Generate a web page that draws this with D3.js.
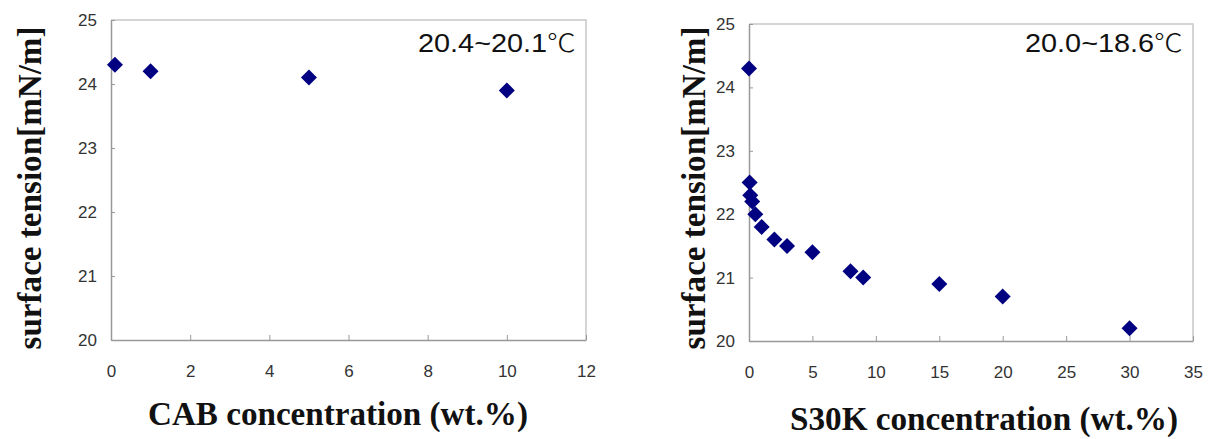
<!DOCTYPE html>
<html>
<head>
<meta charset="utf-8">
<script src="https://cdn.jsdelivr.net/npm/d3@7"></script>
<style>
  body { margin: 0; background: #fff; }
  .tick text { font-family: "Liberation Sans", Arial, sans-serif; font-size: 17px; fill: #333; }
</style>
</head>
<body>
<div id="chart"></div>
<script>
// CAB panel
var cabConc = [0.1, 1, 5, 10];
var cabTension = [24.3, 24.2, 24.1, 23.9];
var cabXTicks = [0, 2, 4, 6, 8, 10, 12];

// S30K panel
var s30kConc = [0, 0.05, 0.1, 0.25, 0.5, 1, 2, 3, 5, 8, 9, 15, 20, 30];
var s30kTension = [24.3, 22.5, 22.3, 22.2, 22.0, 21.8, 21.6, 21.5, 21.4, 21.1, 21.0, 20.9, 20.7, 20.2];
var s30kXTicks = [0, 5, 10, 15, 20, 25, 30, 35];

var yTicks = [20, 21, 22, 23, 24, 25];

var svg = d3.select("#chart").append("svg")
    .attr("width", 1214)
    .attr("height", 439);

svg.append("rect").attr("width", 1214).attr("height", 439).attr("fill", "#fff");

var panels = [
  {x: cabConc, y: cabTension, xTicks: cabXTicks, xMax: 12,
   left: 111, right: 586, top: 20, bottom: 340,
   note: "20.4~20.1", xLabel: "CAB concentration (wt.%)",
   xLabelX: 148, xLabelY: 425, xLabelW: 380, yLabelX: 41},
  {x: s30kConc, y: s30kTension, xTicks: s30kXTicks, xMax: 35,
   left: 749, right: 1193, top: 24, bottom: 341,
   note: "20.0~18.6", xLabel: "S30K concentration (wt.%)",
   xLabelX: 790, xLabelY: 430, xLabelW: 388, yLabelX: 705}
];

panels.forEach(function(p) {
  var x = d3.scaleLinear().domain([0, p.xMax]).range([p.left, p.right]);
  var y = d3.scaleLinear().domain([20, 25]).range([p.bottom, p.top]);

  // light frame on top and right
  svg.append("path")
      .attr("d", "M" + p.left + "," + p.top + "H" + p.right + "V" + p.bottom)
      .attr("fill", "none")
      .attr("stroke", "#c8c8c8")
      .attr("stroke-width", 1.5);

  var xAxis = svg.append("g")
      .attr("transform", "translate(0," + p.bottom + ")")
      .call(d3.axisBottom(x).tickValues(p.xTicks).tickFormat(d3.format("d"))
        .tickSize(-5).tickPadding(25).tickSizeOuter(0));
  var yAxis = svg.append("g")
      .attr("transform", "translate(" + p.left + ",0)")
      .call(d3.axisLeft(y).tickValues(yTicks).tickFormat(d3.format("d"))
        .tickSize(-4).tickPadding(14).tickSizeOuter(0));

  [xAxis, yAxis].forEach(function(g) {
    g.select(".domain").attr("stroke", "#999").attr("stroke-width", 1.5);
    g.selectAll(".tick line").attr("stroke", "#999");
  });

  // markers
  var pts = p.x.map(function(v, i) { return [v, p.y[i]]; });
  svg.append("g").selectAll("path")
      .data(pts)
    .enter().append("path")
      .attr("d", d3.symbol(d3.symbolSquare, 128))
      .attr("transform", function(d) {
        return "translate(" + x(d[0]) + "," + y(d[1]) + ") rotate(45)";
      })
      .attr("fill", "#000080");

  // temperature note
  var note = svg.append("text")
      .attr("x", p.right - 10)
      .attr("y", 52)
      .attr("text-anchor", "end")
      .attr("textLength", 158)
      .attr("lengthAdjust", "spacingAndGlyphs")
      .style("font-family", "'Liberation Sans', Arial, sans-serif")
      .style("font-size", "25px")
      .attr("fill", "#111")
      .text(p.note);
  note.append("tspan")
      .style("font-family", "'Noto Sans CJK JP', sans-serif")
      .style("font-weight", "300")
      .text("\u2103");

  // axis titles
  svg.append("text")
      .attr("x", p.xLabelX)
      .attr("y", p.xLabelY)
      .attr("textLength", p.xLabelW)
      .attr("lengthAdjust", "spacingAndGlyphs")
      .style("font-family", "'Liberation Serif', 'Times New Roman', serif")
      .style("font-weight", "bold")
      .style("font-size", "33px")
      .attr("fill", "#111")
      .text(p.xLabel);

  svg.append("text")
      .attr("transform", "translate(" + p.yLabelX + ",188) rotate(-90)")
      .attr("text-anchor", "middle")
      .attr("textLength", 323)
      .attr("lengthAdjust", "spacingAndGlyphs")
      .style("font-family", "'Liberation Serif', 'Times New Roman', serif")
      .style("font-weight", "bold")
      .style("font-size", "34px")
      .attr("fill", "#111")
      .text("surface tension[mN/m]");
});
</script>
</body>
</html>
